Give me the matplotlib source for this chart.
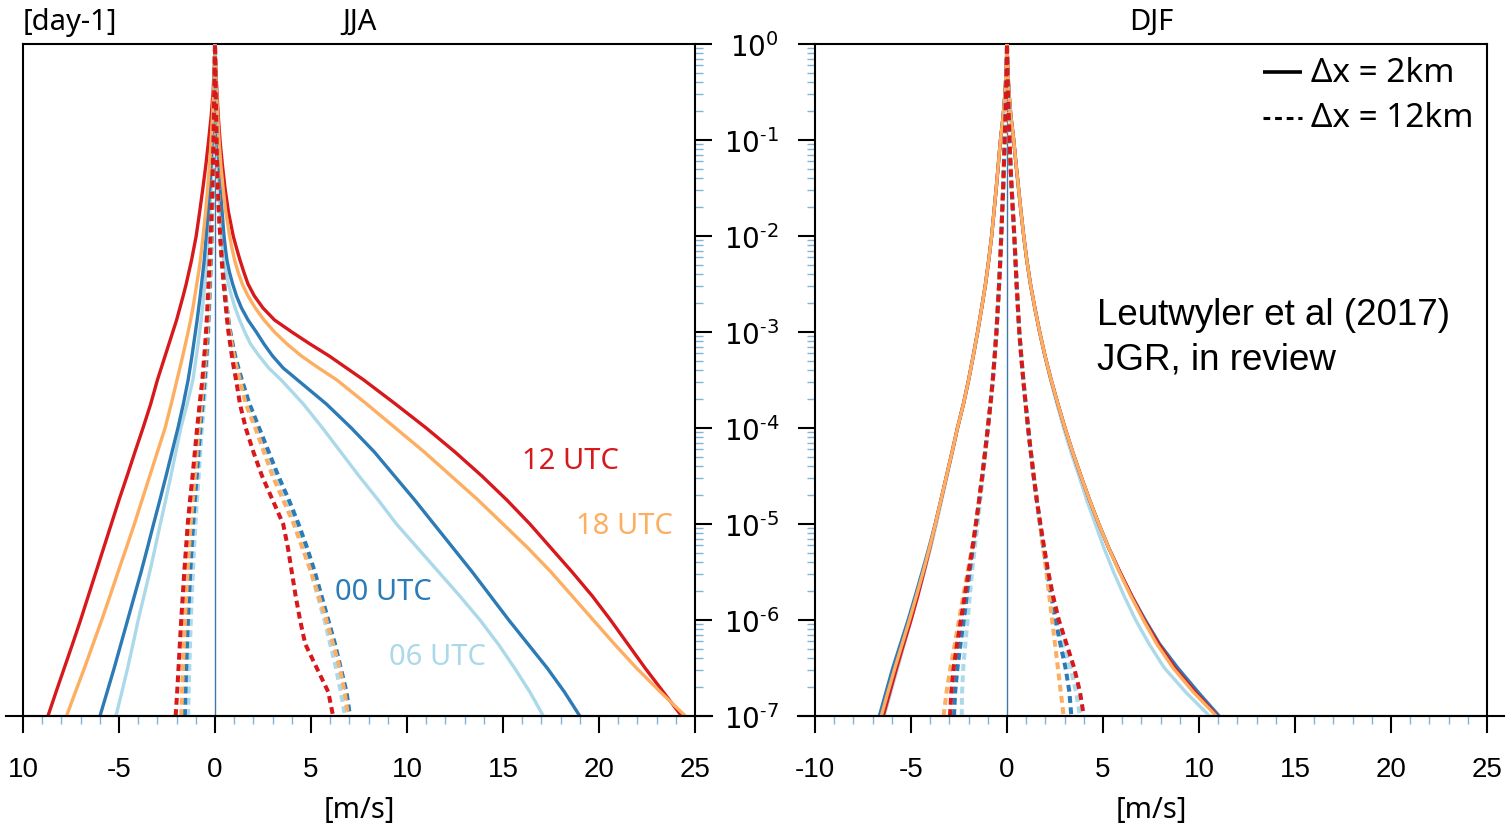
import matplotlib
matplotlib.use("Agg")
import matplotlib.pyplot as plt
import numpy as np
from matplotlib.ticker import FixedLocator, LogLocator, FuncFormatter, NullFormatter

# ---------------- data (log10 of frequency [day-1] vs vertical velocity [m/s]) ----------------
levels_jja = [0, -0.25, -0.5, -0.75, -1, -1.25, -1.5, -1.75, -2, -2.125, -2.25, -2.375, -2.5,
              -2.625, -2.75, -2.875, -3, -3.125, -3.25, -3.375, -3.5, -3.75, -4,
              -4.25, -4.5, -4.75, -5, -5.25, -5.5, -5.75, -6, -6.25, -6.5, -6.75, -7]

# JJA, dx = 2 km (solid)
jja_12_2km_left = [0, -0.04, -0.1, -0.2, -0.33, -0.47, -0.63, -0.8, -0.98, -1.1, -1.22, -1.36, -1.5,
                   -1.66, -1.83, -2.0, -2.2, -2.4, -2.6, -2.8, -3.0, -3.35, -3.75,
                   -4.17, -4.58, -5.0, -5.4, -5.8, -6.2, -6.6, -7.0, -7.42, -7.85, -8.28, -8.7]
jja_12_2km_right = [0, 0.04, 0.1, 0.17, 0.26, 0.38, 0.52, 0.7, 0.95, 1.12, 1.3, 1.5, 1.72,
                    2.05, 2.5, 3.1, 4.0, 4.95, 5.95, 6.85, 7.75, 9.4, 11.0,
                    12.5, 13.9, 15.2, 16.4, 17.5, 18.6, 19.65, 20.6, 21.5, 22.4, 23.35, 24.3]
jja_18_2km_left = [0, -0.03, -0.07, -0.13, -0.2, -0.28, -0.38, -0.49, -0.62, -0.69, -0.76, -0.85, -0.95,
                   -1.05, -1.15, -1.27, -1.4, -1.54, -1.68, -1.83, -1.98, -2.28, -2.6,
                   -3.0, -3.4, -3.8, -4.2, -4.62, -5.05, -5.47, -5.9, -6.35, -6.8, -7.27, -7.73]
jja_18_2km_right = [0, 0.03, 0.08, 0.14, 0.21, 0.3, 0.42, 0.56, 0.76, 0.88, 1.02, 1.2, 1.42,
                    1.72, 2.1, 2.55, 3.1, 3.75, 4.5, 5.4, 6.35, 7.9, 9.4,
                    10.9, 12.3, 13.7, 15.0, 16.3, 17.5, 18.6, 19.7, 20.8, 21.95, 23.2, 24.5]
jja_00_2km_left = [0, -0.02, -0.05, -0.09, -0.14, -0.2, -0.27, -0.36, -0.46, -0.51, -0.56, -0.63, -0.7,
                   -0.77, -0.85, -0.93, -1.02, -1.11, -1.2, -1.3, -1.4, -1.65, -1.93,
                   -2.24, -2.55, -2.87, -3.2, -3.52, -3.85, -4.2, -4.55, -4.9, -5.25, -5.62, -5.99]
jja_00_2km_right = [0, 0.02, 0.06, 0.1, 0.15, 0.21, 0.28, 0.37, 0.47, 0.54, 0.62, 0.75, 0.92,
                    1.12, 1.38, 1.72, 2.15, 2.55, 3.0, 3.55, 4.3, 5.8, 7.1,
                    8.3, 9.35, 10.4, 11.4, 12.4, 13.4, 14.35, 15.3, 16.3, 17.3, 18.2, 19.0]
jja_06_2km_left = [0, -0.015, -0.04, -0.07, -0.11, -0.15, -0.2, -0.27, -0.34, -0.38, -0.42, -0.47, -0.53,
                   -0.59, -0.65, -0.72, -0.8, -0.88, -0.97, -1.06, -1.15, -1.45, -1.78,
                   -2.04, -2.3, -2.57, -2.85, -3.12, -3.4, -3.7, -4.0, -4.27, -4.55, -4.85, -5.16]
jja_06_2km_right = [0, 0.015, 0.04, 0.07, 0.11, 0.15, 0.2, 0.26, 0.33, 0.38, 0.45, 0.56, 0.7,
                    0.86, 1.05, 1.28, 1.55, 1.85, 2.3, 2.8, 3.45, 4.6, 5.6,
                    6.55, 7.5, 8.5, 9.45, 10.55, 11.65, 12.75, 13.8, 14.75, 15.6, 16.4, 17.1]

# JJA, dx = 12 km (dotted)
jja_12_12km_left = [0, -0.02, -0.04, -0.06, -0.08, -0.11, -0.14, -0.18, -0.23, -0.25, -0.28, -0.31, -0.34,
                    -0.37, -0.4, -0.43, -0.47, -0.51, -0.56, -0.61, -0.66, -0.8, -0.93,
                    -1.05, -1.17, -1.3, -1.42, -1.51, -1.6, -1.68, -1.76, -1.83, -1.9, -1.97, -2.05]
jja_12_12km_right = [0, 0.02, 0.04, 0.06, 0.08, 0.11, 0.15, 0.2, 0.27, 0.31, 0.35, 0.4, 0.45,
                     0.51, 0.57, 0.63, 0.7, 0.79, 0.88, 0.98, 1.1, 1.3, 1.6,
                     2.0, 2.45, 3.0, 3.55, 3.8, 4.0, 4.2, 4.43, 4.7, 5.3, 5.9, 6.15]
jja_18_12km_left = [0, -0.02, -0.035, -0.05, -0.07, -0.1, -0.13, -0.16, -0.2, -0.22, -0.25, -0.27, -0.3,
                    -0.32, -0.35, -0.38, -0.42, -0.46, -0.5, -0.55, -0.6, -0.72, -0.84,
                    -0.95, -1.05, -1.16, -1.27, -1.35, -1.43, -1.5, -1.56, -1.62, -1.67, -1.72, -1.76]
jja_18_12km_right = [0, 0.02, 0.04, 0.06, 0.09, 0.12, 0.16, 0.21, 0.28, 0.32, 0.36, 0.41, 0.46,
                     0.53, 0.6, 0.68, 0.76, 0.87, 0.98, 1.13, 1.3, 1.6, 2.1,
                     2.55, 3.0, 3.55, 4.1, 4.55, 5.0, 5.4, 5.8, 6.15, 6.5, 6.75, 6.93]
jja_00_12km_left = [0, -0.015, -0.03, -0.045, -0.06, -0.09, -0.12, -0.15, -0.18, -0.2, -0.22, -0.245, -0.27,
                    -0.295, -0.32, -0.35, -0.38, -0.41, -0.45, -0.49, -0.54, -0.65, -0.76,
                    -0.86, -0.95, -1.05, -1.14, -1.22, -1.29, -1.35, -1.41, -1.46, -1.5, -1.54, -1.57]
jja_00_12km_right = [0, 0.02, 0.04, 0.06, 0.09, 0.12, 0.16, 0.21, 0.28, 0.32, 0.37, 0.42, 0.48,
                     0.55, 0.62, 0.7, 0.8, 0.92, 1.05, 1.22, 1.4, 1.8, 2.3,
                     2.8, 3.3, 3.85, 4.35, 4.8, 5.2, 5.55, 5.9, 6.25, 6.55, 6.85, 7.03]
jja_06_12km_left = [0, -0.012, -0.025, -0.04, -0.055, -0.08, -0.1, -0.13, -0.16, -0.18, -0.2, -0.22, -0.24,
                    -0.265, -0.29, -0.315, -0.34, -0.37, -0.4, -0.44, -0.48, -0.58, -0.68,
                    -0.77, -0.85, -0.94, -1.02, -1.09, -1.15, -1.21, -1.26, -1.3, -1.34, -1.37, -1.4]
jja_06_12km_right = [0, 0.02, 0.04, 0.06, 0.09, 0.12, 0.16, 0.21, 0.28, 0.32, 0.37, 0.42, 0.47,
                     0.54, 0.61, 0.69, 0.78, 0.89, 1.02, 1.18, 1.35, 1.72, 2.2,
                     2.7, 3.2, 3.72, 4.25, 4.65, 5.0, 5.35, 5.7, 6.0, 6.3, 6.55, 6.77]

levels_djf = [0, -0.25, -0.5, -0.75, -1, -1.25, -1.5, -1.75, -2, -2.25, -2.5, -2.75, -3, -3.25,
              -3.5, -3.75, -4, -4.25, -4.5, -4.75, -5, -5.25, -5.5, -5.75, -6, -6.25, -6.5, -6.75, -7]

# DJF, dx = 2 km (solid)
djf_18_2km_left = [0, -0.04, -0.1, -0.2, -0.34, -0.45, -0.56, -0.68, -0.8, -0.95, -1.12, -1.32, -1.53, -1.76,
                   -2.0, -2.27, -2.58, -2.86, -3.15, -3.44, -3.73, -4.04, -4.37, -4.72, -5.08, -5.46, -5.84, -6.2, -6.55]
djf_18_2km_right = [0, 0.04, 0.1, 0.2, 0.35, 0.47, 0.6, 0.73, 0.87, 1.03, 1.22, 1.45, 1.7, 1.98,
                    2.3, 2.65, 3.02, 3.42, 3.85, 4.3, 4.78, 5.3, 5.85, 6.45, 7.1, 7.8, 8.65, 9.7, 10.9]
djf_12_2km_left = [0, -0.04, -0.1, -0.2, -0.34, -0.45, -0.56, -0.68, -0.8, -0.95, -1.12, -1.32, -1.53, -1.76,
                   -2.0, -2.27, -2.58, -2.86, -3.15, -3.44, -3.73, -4.02, -4.33, -4.65, -5.0, -5.38, -5.75, -6.1, -6.45]
djf_12_2km_right = [0, 0.04, 0.1, 0.2, 0.35, 0.47, 0.6, 0.73, 0.87, 1.03, 1.22, 1.45, 1.7, 1.98,
                    2.3, 2.65, 3.02, 3.42, 3.85, 4.3, 4.78, 5.3, 5.88, 6.5, 7.15, 7.9, 8.75, 9.8, 10.95]
djf_00_2km_left = [0, -0.04, -0.1, -0.2, -0.34, -0.45, -0.56, -0.68, -0.8, -0.95, -1.12, -1.32, -1.53, -1.76,
                   -2.0, -2.27, -2.58, -2.86, -3.15, -3.44, -3.74, -4.07, -4.42, -4.78, -5.15, -5.55, -5.95, -6.3, -6.65]
djf_00_2km_right = [0, 0.04, 0.1, 0.2, 0.35, 0.47, 0.6, 0.73, 0.87, 1.03, 1.22, 1.45, 1.7, 1.98,
                    2.3, 2.65, 3.02, 3.42, 3.85, 4.3, 4.78, 5.3, 5.88, 6.5, 7.2, 7.95, 8.9, 9.95, 11.05]
djf_06_2km_left = [0, -0.04, -0.1, -0.2, -0.34, -0.45, -0.56, -0.68, -0.8, -0.95, -1.12, -1.32, -1.53, -1.76,
                   -2.0, -2.27, -2.57, -2.84, -3.12, -3.4, -3.68, -3.98, -4.3, -4.65, -5.0, -5.35, -5.7, -6.05, -6.4]
djf_06_2km_right = [0, 0.04, 0.1, 0.2, 0.35, 0.47, 0.6, 0.73, 0.87, 1.03, 1.22, 1.45, 1.7, 1.97,
                    2.27, 2.6, 2.95, 3.33, 3.75, 4.15, 4.6, 5.05, 5.55, 6.1, 6.7, 7.4, 8.2, 9.3, 10.55]

# DJF, dx = 12 km (dotted)
djf_18_12km_left = [0, -0.02, -0.05, -0.08, -0.12, -0.16, -0.2, -0.25, -0.3, -0.35, -0.41, -0.48, -0.55, -0.64,
                    -0.74, -0.86, -1.0, -1.14, -1.29, -1.45, -1.62, -1.82, -2.05, -2.28, -2.5, -2.72, -2.95, -3.15, -3.3]
djf_18_12km_right = [0, 0.02, 0.05, 0.09, 0.13, 0.18, 0.24, 0.31, 0.38, 0.44, 0.5, 0.57, 0.64, 0.74,
                     0.85, 0.97, 1.1, 1.24, 1.39, 1.55, 1.72, 1.88, 2.05, 2.2, 2.35, 2.5, 2.65, 2.8, 2.95]
djf_12_12km_left = [0, -0.02, -0.05, -0.08, -0.12, -0.16, -0.2, -0.25, -0.3, -0.35, -0.41, -0.48, -0.55, -0.64,
                    -0.74, -0.86, -1.0, -1.14, -1.29, -1.45, -1.62, -1.8, -2.0, -2.2, -2.4, -2.6, -2.78, -2.9, -2.97]
djf_12_12km_right = [0, 0.02, 0.05, 0.09, 0.13, 0.18, 0.24, 0.31, 0.38, 0.44, 0.5, 0.57, 0.64, 0.74,
                     0.85, 0.97, 1.1, 1.24, 1.39, 1.55, 1.74, 1.94, 2.15, 2.4, 2.7, 3.1, 3.5, 3.8, 4.0]
djf_00_12km_left = [0, -0.02, -0.05, -0.08, -0.12, -0.16, -0.2, -0.25, -0.3, -0.35, -0.41, -0.48, -0.55, -0.64,
                    -0.74, -0.86, -1.0, -1.14, -1.29, -1.45, -1.62, -1.78, -1.95, -2.1, -2.25, -2.42, -2.58, -2.7, -2.76]
djf_00_12km_right = [0, 0.02, 0.05, 0.09, 0.13, 0.18, 0.24, 0.31, 0.38, 0.44, 0.5, 0.57, 0.64, 0.74,
                     0.85, 0.97, 1.1, 1.24, 1.39, 1.55, 1.72, 1.9, 2.1, 2.3, 2.52, 2.78, 3.05, 3.25, 3.35]
djf_06_12km_left = [0, -0.02, -0.05, -0.08, -0.12, -0.16, -0.2, -0.25, -0.3, -0.35, -0.41, -0.48, -0.55, -0.64,
                    -0.74, -0.86, -0.99, -1.12, -1.25, -1.39, -1.53, -1.68, -1.82, -1.94, -2.05, -2.17, -2.28, -2.34, -2.36]
djf_06_12km_right = [0, 0.02, 0.05, 0.09, 0.13, 0.18, 0.24, 0.31, 0.38, 0.44, 0.5, 0.57, 0.64, 0.74,
                     0.85, 0.97, 1.1, 1.24, 1.39, 1.55, 1.72, 1.9, 2.1, 2.32, 2.55, 2.9, 3.3, 3.6, 3.8]

hours = ["06", "00", "12", "18"]
colors = {"12": "#d7191c", "18": "#fdae61", "00": "#2c7bb6", "06": "#abd9e9"}
utc_keys = ["12", "18", "00", "06"]
utc_labels = ["12 UTC", "18 UTC", "00 UTC", "06 UTC"]
utc_label_x = [18.5, 21.3, 8.75, 11.56]
utc_label_logy = [-4.34, -5.02, -5.70, -6.385]
xticks_major = [-10, -5, 0, 5, 10, 15, 20, 25]
xtick_labels_left = ["10", "-5", "0", "5", "10", "15", "20", "25"]
xtick_labels_right = ["-10", "-5", "0", "5", "10", "15", "20", "25"]

series = {
    "jja": {"levels": levels_jja,
            "2km": {"12": (jja_12_2km_left, jja_12_2km_right), "18": (jja_18_2km_left, jja_18_2km_right),
                    "00": (jja_00_2km_left, jja_00_2km_right), "06": (jja_06_2km_left, jja_06_2km_right)},
            "12km": {"12": (jja_12_12km_left, jja_12_12km_right), "18": (jja_18_12km_left, jja_18_12km_right),
                     "00": (jja_00_12km_left, jja_00_12km_right), "06": (jja_06_12km_left, jja_06_12km_right)}},
    "djf": {"levels": levels_djf,
            "2km": {"12": (djf_12_2km_left, djf_12_2km_right), "18": (djf_18_2km_left, djf_18_2km_right),
                    "00": (djf_00_2km_left, djf_00_2km_right), "06": (djf_06_2km_left, djf_06_2km_right)},
            "12km": {"12": (djf_12_12km_left, djf_12_12km_right), "18": (djf_18_12km_left, djf_18_12km_right),
                     "00": (djf_00_12km_left, djf_00_12km_right), "06": (djf_06_12km_left, djf_06_12km_right)}},
}

# ---------------- style ----------------
plt.rcParams["mathtext.fontset"] = "custom"
plt.rcParams["mathtext.rm"] = "Liberation Sans"
plt.rcParams["mathtext.it"] = "Liberation Sans:italic"
plt.rcParams["mathtext.bf"] = "Liberation Sans:bold"
LAB = ["Noto Sans", "DejaVu Sans"]
NUM = ["Liberation Sans", "DejaVu Sans"]
minor_col = "#7fb3d8"

fig = plt.figure(figsize=(15.1, 8.28), dpi=100)
W, H = 1510.0, 828.0
ax1 = fig.add_axes([23 / W, 111 / H, 672 / W, 672 / H])
ax2 = fig.add_axes([815 / W, 111 / H, 672 / W, 672 / H])


def curve(levels, left, right):
    lv = np.asarray(levels, float)
    xs = np.concatenate([np.asarray(left, float)[::-1], np.asarray(right, float)[1:]])
    ys = np.concatenate([lv[::-1], lv[1:]])
    return xs, 10.0 ** ys


for ax, key in ((ax1, "jja"), (ax2, "djf")):
    d = series[key]
    ax.axvline(0, color="#3f78ad", lw=1.0, zorder=1)
    for h in hours:
        xs, ys = curve(d["levels"], *d["2km"][h])
        ax.plot(xs, ys, color=colors[h], lw=2.4, solid_joinstyle="round", zorder=3)
    for h in ["06", "00", "18", "12"]:
        xs, ys = curve(d["levels"], *d["12km"][h])
        ax.plot(xs, ys, color=colors[h], lw=2.9, linestyle=(0, (1.7, 1.1)),
                dash_capstyle="butt", zorder=4)

    ax.set_yscale("log")
    ax.set_ylim(1e-7, 1)
    ax.set_xlim(-10, 25)
    ax.xaxis.set_major_locator(FixedLocator(xticks_major))
    ax.xaxis.set_minor_locator(FixedLocator(np.arange(-10, 26, 1)))
    ax.yaxis.set_major_locator(LogLocator(base=10, numticks=20))
    ax.yaxis.set_minor_locator(LogLocator(base=10, subs=np.arange(2, 10), numticks=20))
    ax.yaxis.set_minor_formatter(NullFormatter())
    ax.tick_params(axis="x", which="major", direction="out", length=12, width=1.5,
                   color="black", labelsize=20, pad=17, top=False)
    ax.tick_params(axis="x", which="minor", direction="out", length=6, width=1.0,
                   color=minor_col, top=False)
    ax.tick_params(axis="y", which="major", direction="out", length=12, width=1.5, color="black")
    ax.tick_params(axis="y", which="minor", direction="out", length=6, width=1.0, color=minor_col)
    for sp in ax.spines.values():
        sp.set_linewidth(1.5)
        sp.set_color("black")
    ax.plot([-0.026, 1.026], [0, 0], transform=ax.transAxes, color="black", lw=1.5,
            clip_on=False, zorder=6)
    ax.set_xlabel("[m/s]", fontsize=21, family=LAB, labelpad=9)

ax1.set_xticklabels(xtick_labels_left, family=NUM)
ax2.set_xticklabels(xtick_labels_right, family=NUM)

ax1.yaxis.tick_right()
ax1.tick_params(axis="y", which="both", labelright=False, labelleft=False, left=False, right=True)
ax2.yaxis.tick_left()
ax2.tick_params(axis="y", which="both", right=False, left=True)
ax2.tick_params(axis="y", which="major", labelsize=20, pad=14)


def ylab(v, p):
    e = int(round(np.log10(v)))
    if e < 0:
        return r"$\mathregular{10^{\text{-}%d}}$" % (-e)
    return r"$\mathregular{10^{%d}}$" % e


ax2.yaxis.set_major_formatter(FuncFormatter(ylab))

ax1.set_title("JJA", fontsize=21, family=LAB, pad=11)
ax1.set_title("[day-1]", loc="left", fontsize=21, family=LAB, pad=11)
ax2.set_title("DJF", fontsize=21, family=LAB, pad=11)

# UTC labels
for lab, k, x, ly in zip(utc_labels, utc_keys, utc_label_x, utc_label_logy):
    ax1.text(x, 10 ** ly, lab, color=colors[k], fontsize=21, family=LAB, ha="center", va="center")

# legend (drawn by hand in axes coordinates)
ax2.plot([0.667, 0.725], [0.958, 0.958], transform=ax2.transAxes, color="black", lw=2.6,
         solid_capstyle="butt")
ax2.plot([0.667, 0.725], [0.890, 0.890], transform=ax2.transAxes, color="black", lw=2.2,
         linestyle=(0, (2.2, 1.6)), dash_capstyle="butt")
ax2.text(0.738, 0.958, "Δx = 2km", transform=ax2.transAxes, fontsize=24, family=LAB, va="center")
ax2.text(0.738, 0.890, "Δx = 12km", transform=ax2.transAxes, fontsize=24, family=LAB, va="center")

ax2.text(0.4196, 0.597, "Leutwyler et al (2017)", transform=ax2.transAxes, fontsize=26.5,
         family=NUM, va="center", ha="left")
ax2.text(0.4196, 0.531, "JGR, in review", transform=ax2.transAxes, fontsize=26.5,
         family=NUM, va="center", ha="left")

fig.savefig("out.png", dpi=100)
